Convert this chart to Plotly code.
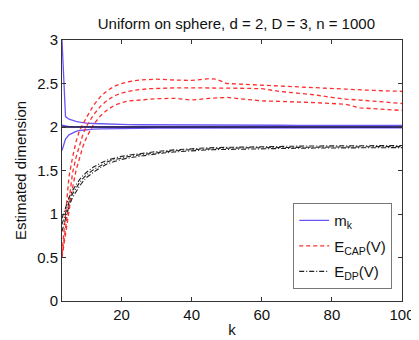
import plotly.graph_objects as go

k = [3, 4, 5, 6, 7, 8, 9, 10, 12, 14, 16, 18, 20, 22, 25, 28, 30, 35, 40, 45, 47, 50,
     55, 60, 65, 70, 75, 80, 84, 88, 92, 96, 100]

mk_hi = [3.00, 2.12, 2.09, 2.075, 2.065, 2.055, 2.048, 2.044, 2.04, 2.036, 2.033, 2.031,
         2.03, 2.028, 2.026, 2.025, 2.024, 2.022, 2.021, 2.02, 2.02, 2.02, 2.02, 2.02, 2.02,
         2.019, 2.019, 2.019, 2.019, 2.019, 2.019, 2.019, 2.019]
mk_mid = [2.02, 2.01, 2.005, 2.003, 2.002, 2.002, 2.001, 2.001, 2.001, 2.0, 2.0, 2.0, 2.0,
          2.0, 2.0, 2.0, 2.0, 2.0, 2.0, 2.0, 2.0, 2.0, 2.0, 2.0, 2.0, 2.0, 2.0, 2.0, 2.0,
          2.0, 2.0, 2.0, 2.0]
mk_lo = [1.73, 1.86, 1.91, 1.935, 1.95, 1.96, 1.965, 1.97, 1.975, 1.978, 1.98, 1.982,
         1.983, 1.984, 1.985, 1.986, 1.987, 1.988, 1.989, 1.99, 1.99, 1.99, 1.99, 1.99,
         1.99, 1.99, 1.99, 1.99, 1.99, 1.99, 1.99, 1.99, 1.99]

cap_hi = [0.55, 0.95, 1.43, 1.65, 1.83, 1.96, 2.04, 2.11, 2.25, 2.35, 2.42, 2.47, 2.50,
          2.52, 2.54, 2.55, 2.55, 2.54, 2.535, 2.556, 2.55, 2.50, 2.49, 2.485, 2.47, 2.46,
          2.45, 2.44, 2.43, 2.425, 2.42, 2.415, 2.41]
cap_mid = [0.52, 0.85, 1.20, 1.47, 1.65, 1.80, 1.92, 2.01, 2.14, 2.24, 2.31, 2.36, 2.39,
           2.41, 2.43, 2.44, 2.445, 2.45, 2.45, 2.45, 2.45, 2.45, 2.445, 2.44, 2.41, 2.39,
           2.37, 2.34, 2.32, 2.31, 2.295, 2.28, 2.27]
cap_lo = [0.50, 0.78, 1.05, 1.30, 1.50, 1.65, 1.78, 1.88, 2.03, 2.13, 2.20, 2.25, 2.28,
          2.30, 2.31, 2.32, 2.325, 2.33, 2.31, 2.33, 2.335, 2.34, 2.32, 2.30, 2.295, 2.29,
          2.28, 2.27, 2.26, 2.22, 2.21, 2.20, 2.19]

dp_hi = [0.95, 1.08, 1.19, 1.27, 1.34, 1.395, 1.44, 1.48, 1.54, 1.585, 1.62, 1.645, 1.662,
         1.676, 1.695, 1.708, 1.718, 1.737, 1.752, 1.762, 1.764, 1.767, 1.772, 1.775, 1.778,
         1.78, 1.782, 1.782, 1.784, 1.785, 1.786, 1.787, 1.787]
dp_mid = [0.88, 1.02, 1.14, 1.23, 1.30, 1.36, 1.41, 1.45, 1.51, 1.56, 1.60, 1.625, 1.645,
          1.66, 1.68, 1.695, 1.705, 1.725, 1.74, 1.75, 1.752, 1.755, 1.76, 1.763, 1.766,
          1.768, 1.77, 1.77, 1.772, 1.773, 1.774, 1.775, 1.775]
dp_lo = [0.80, 0.96, 1.09, 1.19, 1.26, 1.32, 1.375, 1.42, 1.48, 1.535, 1.578, 1.605, 1.628,
         1.644, 1.665, 1.682, 1.692, 1.713, 1.728, 1.738, 1.74, 1.743, 1.748, 1.751, 1.754,
         1.756, 1.758, 1.758, 1.76, 1.761, 1.762, 1.763, 1.763]

true_k = [3, 100]
true_d = [2, 2]

BLUE = "#6a55f5"
RED = "#ff2e2e"
BLACK = "#222222"

fig = go.Figure()

for i, ys in enumerate([mk_hi, mk_mid, mk_lo]):
    fig.add_trace(go.Scatter(x=k, y=ys, mode="lines", name="m<sub>k</sub>",
                             legendgroup="mk", showlegend=(i == 0),
                             line=dict(color=BLUE, width=1.3)))
for i, ys in enumerate([cap_hi, cap_mid, cap_lo]):
    fig.add_trace(go.Scatter(x=k, y=ys, mode="lines", name="E<sub>CAP</sub>(V)",
                             legendgroup="cap", showlegend=(i == 0),
                             line=dict(color=RED, width=1.3, dash="4px,3px")))
for i, ys in enumerate([dp_hi, dp_mid, dp_lo]):
    fig.add_trace(go.Scatter(x=k, y=ys, mode="lines", name="E<sub>DP</sub>(V)",
                             legendgroup="dp", showlegend=(i == 0),
                             line=dict(color=BLACK, width=1.1, dash="5px,2px,1px,2px")))
fig.add_trace(go.Scatter(x=true_k, y=true_d, mode="lines", showlegend=False,
                         line=dict(color="#1a1440", width=1.3)))

FONT = "Liberation Sans, Arial, sans-serif"

fig.update_layout(
    width=419, height=340,
    margin=dict(l=54, r=16, t=32, b=34),
    paper_bgcolor="white", plot_bgcolor="white",
    font=dict(family=FONT, size=15, color="#111111"),
    title=dict(text="Uniform on sphere, d = 2, D = 3, n = 1000",
               x=0.545, xanchor="center", y=0.955, yanchor="middle",
               font=dict(size=15, color="#111111")),
    showlegend=True,
    legend=dict(x=0.68, y=0.375, xanchor="left", yanchor="top",
                bgcolor="white", bordercolor="#777777", borderwidth=1,
                font=dict(size=15), tracegroupgap=3, traceorder="grouped",
                itemwidth=30),
)
fig.update_xaxes(range=[3, 100], tickvals=[20, 40, 60, 80, 100],
                 ticks="inside", ticklen=4, tickcolor="#333",
                 showline=True, linecolor="#333", linewidth=1, mirror="ticks",
                 showgrid=False, zeroline=False,
                 title=dict(text="k", standoff=2, font=dict(size=15)),
                 tickfont=dict(size=15))
fig.update_yaxes(range=[0, 3], dtick=0.5, tick0=0,
                 ticks="inside", ticklen=4, tickcolor="#333",
                 showline=True, linecolor="#333", linewidth=1, mirror="ticks",
                 showgrid=False, zeroline=False,
                 title=dict(text="Estimated dimension", standoff=6, font=dict(size=15)),
                 tickfont=dict(size=15))

fig.write_html("out.html")
